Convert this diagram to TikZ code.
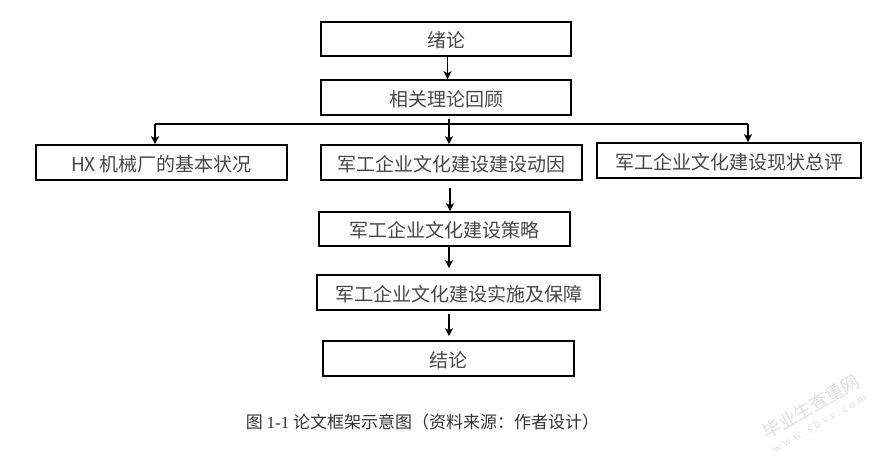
\documentclass[tikz,border=0pt]{standalone}
\usepackage{fontspec}
\setmainfont{Noto Sans CJK SC}
\newfontfamily\latinserif{Liberation Serif}
\usetikzlibrary{arrows.meta}
\tikzset{
  stagebox/.style={draw,line width=1.6pt,inner sep=0pt,text=black!72,text height=20pt,text depth=3pt,font=\fontsize{19}{21}\selectfont},
  flowline/.style={line width=1.5pt},
  flowarrow/.style={line width=1.5pt,-{Stealth[length=8pt,width=8pt,inset=2pt]}},
  markbig/.style={text=gray!25,rotate=30,font=\fontsize{18}{20}\selectfont},
  marksmall/.style={text=gray!25,rotate=30,font=\latinserif\fontsize{12}{14}\selectfont\addfontfeature{LetterSpace=25}}
}
\begin{document}
\begin{tikzpicture}[x=1pt, y=-1pt]
\useasboundingbox (0,0) rectangle (880,458);
\node[stagebox,minimum width=250pt,minimum height=34pt] (xulun) at (446,39) {绪论};
\node[stagebox,minimum width=250pt,minimum height=35pt] (huigu) at (446,97.5) {相关理论回顾};
\node[stagebox,minimum width=251pt,minimum height=35pt] (jiben) at (161.5,162.5) {HX 机械厂的基本状况};
\node[stagebox,minimum width=261pt,minimum height=35pt] (dongyin) at (451.5,162.5) {军工企业文化建设建设动因};
\node[stagebox,minimum width=264pt,minimum height=35pt] (xianzhuang) at (729,160.5) {军工企业文化建设现状总评};
\node[stagebox,minimum width=251pt,minimum height=34pt] (celue) at (444.5,229) {军工企业文化建设策略};
\node[stagebox,minimum width=283pt,minimum height=35pt] (shishi) at (458.5,292.5) {军工企业文化建设实施及保障};
\node[stagebox,minimum width=251pt,minimum height=35pt] (jielun) at (448.5,358.5) {结论};
\node[font=\fontsize{17}{19}\selectfont,text=black!80] (caption) at (422.5,422)
  {图 {\latinserif 1-1} 论文框架示意图（资料来源：作者设计）};
\node[markbig] (markname) at (811,407) {毕业生查重网};
\node[marksmall] (markurl) at (819,423) {www.sbvv.com};

\coordinate (busleft) at (155,124);
\coordinate (busright) at (748,124);
\draw[flowline] (busleft) -- (busright);
\draw[flowarrow] (busleft) -- (busleft |- jiben.north);
\draw[flowarrow] (busright) -- (busright |- xianzhuang.north);

\draw[flowarrow] ([xshift=1.5pt]xulun.south) -- ([xshift=1.5pt]huigu.north);
\draw[flowarrow] ([xshift=3pt,yshift=-3pt]huigu.south) -- ([xshift=-2.5pt]dongyin.north);
\draw[flowarrow] ([xshift=-1.5pt,yshift=-7pt]dongyin.south) -- ([xshift=5.5pt]celue.north);
\draw[flowarrow] ([xshift=4.5pt]celue.south) -- ([xshift=-9.5pt,yshift=6pt]shishi.north);
\draw[flowarrow] ([xshift=-9.5pt,yshift=-3pt]shishi.south) -- ([xshift=0.5pt,yshift=4pt]jielun.north);
\end{tikzpicture}
\end{document}
